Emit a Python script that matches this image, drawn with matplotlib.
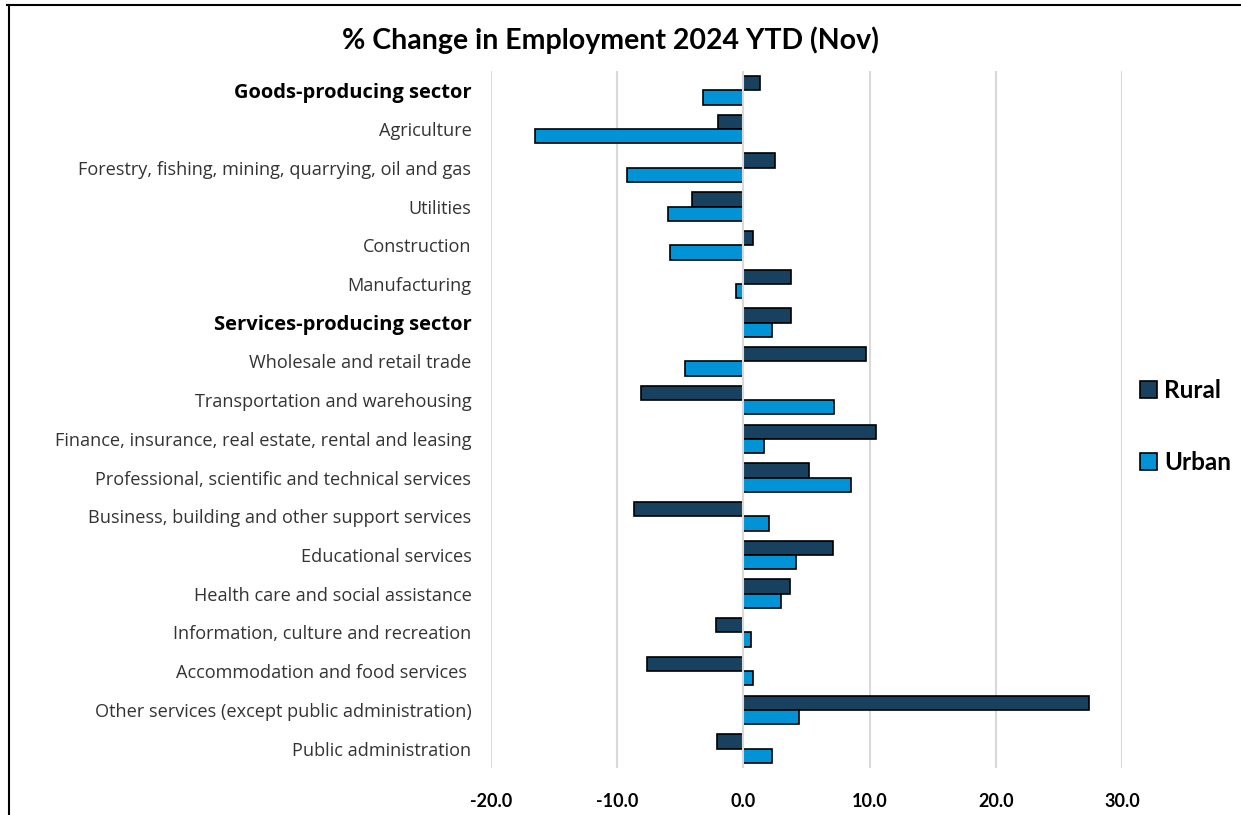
import numpy as np
import matplotlib
matplotlib.use('Agg')
import matplotlib.pyplot as plt
import matplotlib.transforms as mtransforms
from matplotlib.lines import Line2D

plt.rcParams['font.family'] = ['Lato', 'DejaVu Sans']

categories = [
    'Goods-producing sector',
    'Agriculture',
    'Forestry, fishing, mining, quarrying, oil and gas',
    'Utilities',
    'Construction',
    'Manufacturing',
    'Services-producing sector',
    'Wholesale and retail trade',
    'Transportation and warehousing',
    'Finance, insurance, real estate, rental and leasing',
    'Professional, scientific and technical services',
    'Business, building and other support services',
    'Educational services',
    'Health care and social assistance',
    'Information, culture and recreation',
    'Accommodation and food services ',
    'Other services (except public administration)',
    'Public administration',
]
bold_rows = ['Goods-producing sector', 'Services-producing sector']

rural = [1.3, -2.0, 2.5, -4.1, 0.8, 3.8,
         3.8, 9.7, -8.1, 10.5, 5.2, -8.7,
         7.1, 3.7, -2.2, -7.6, 27.4, -2.1]
urban = [-3.2, -16.5, -9.2, -6.0, -5.8, -0.6,
         2.3, -4.6, 7.2, 1.6, 8.5, 2.0,
         4.2, 3.0, 0.6, 0.8, 4.4, 2.3]

xticks = [-20, -10, 0, 10, 20, 30]

fig = plt.figure(figsize=(12.41, 8.15), dpi=100)
ax = fig.add_axes([0.3956, 0.0577, 0.5085, 0.8552])

y = np.arange(len(categories))
h = 0.37
ax.barh(y - h / 2, rural, height=h, color='#17415f', edgecolor='black',
        linewidth=1.2, label='Rural', zorder=3)
ax.barh(y + h / 2, urban, height=h, color='#0094d6', edgecolor='black',
        linewidth=1.2, label='Urban', zorder=3)

ax.set_xlim(-20, 30)
ax.set_ylim(len(categories) - 0.5, -0.5)
ax.set_xticks(xticks)
ax.set_xticklabels([f'{v:.1f}' for v in xticks], fontsize=13, fontweight='bold')
ax.set_yticks(y)
ax.set_yticklabels(categories, fontsize=13.1, color='#333333',
                   family=['Open Sans', 'DejaVu Sans'])
shift = mtransforms.ScaledTranslation(0, -4 / 100, fig.dpi_scale_trans)
for lab in ax.get_yticklabels():
    lab.set_transform(lab.get_transform() + shift)
    if lab.get_text() in bold_rows:
        lab.set_fontweight('bold')
        lab.set_fontsize(14.5)
        lab.set_color('black')

ax.tick_params(axis='x', length=0, pad=18)
ax.tick_params(axis='y', length=0, pad=14)
for s in ax.spines.values():
    s.set_visible(False)
ax.grid(axis='x', color='#d9d9d9', linewidth=1.5, zorder=0)
ax.axvline(0, color='#d9d9d9', linewidth=1.5, zorder=4)

fig.text(0.4915, 0.951, '% Change in Employment 2024 YTD (Nov)',
         ha='center', va='center', fontsize=20.5, fontweight='bold')

fig.legend(loc='center left', bbox_to_anchor=(0.901, 0.477), frameon=False,
           prop={'size': 17.5, 'weight': 'bold'}, handlelength=0.7,
           handleheight=0.7, handletextpad=0.3, labelspacing=2.0)

# outer frame (top and left edges)
fig.add_artist(Line2D([0.006, 1.0], [0.994, 0.994], color='black', linewidth=1.5))
fig.add_artist(Line2D([0.007, 0.007], [0.0, 0.994], color='black', linewidth=1.5))

fig.savefig('out.png', dpi=100)
